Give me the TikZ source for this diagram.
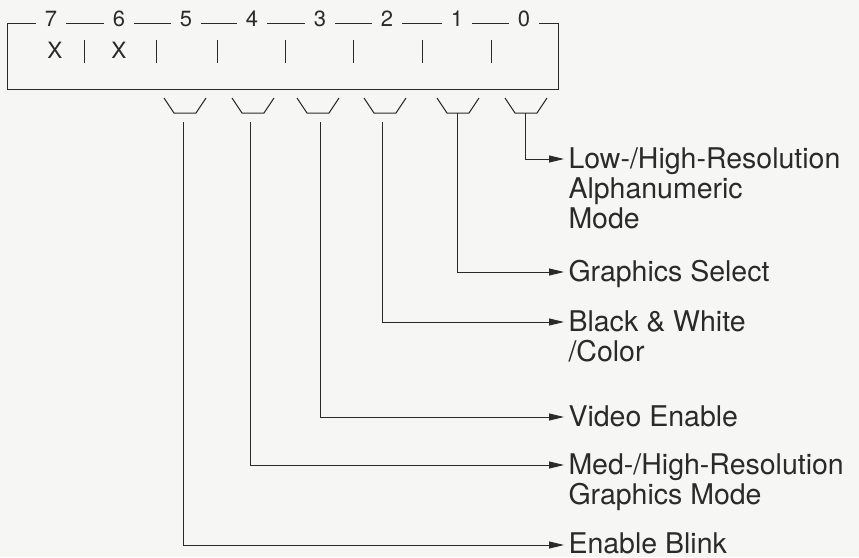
\documentclass[tikz,border=0pt]{standalone}
\usepackage{fontspec}
\setmainfont{TeX Gyre Heros}
\usetikzlibrary{arrows.meta}
\definecolor{paper}{HTML}{F6F6F4}
\definecolor{ink}{HTML}{2A2A2A}
\begin{document}
\begin{tikzpicture}[x=1pt,y=-1pt,color=ink,line width=1pt,
  bitnum/.style={font=\fontsize{22}{24}\selectfont, fill=paper, inner xsep=8.5pt, inner ysep=2pt},
  xlet/.style={font=\fontsize{22.5}{24}\selectfont, inner sep=0pt},
  lbl/.style={font=\fontsize{28.5}{30}\selectfont, align=left, anchor=base west, inner sep=0pt},
  arr/.style={-{Triangle[length=15pt,width=7pt]}},
  cupline/.style={line width=1pt}]
\useasboundingbox[fill=paper] (0,0) rectangle (859,557);
% register box
\draw (7,89) -- (7,23) -- (558,23) -- (558,89) -- cycle;
\node[bitnum] (b7) at (51,19) {7};
\node[bitnum] (b6) at (119,19) {6};
\node[bitnum] (b5) at (186,19) {5};
\node[bitnum] (b4) at (252,19) {4};
\node[bitnum] (b3) at (320,19) {3};
\node[bitnum] (b2) at (387,19) {2};
\node[bitnum] (b1) at (457,19) {1};
\node[bitnum] (b0) at (524,19) {0};
\foreach \s in {84,156,217,285,353,422,491}
  \draw (\s,40) -- (\s,63);
\node[xlet] (x7) at (55,50) {X};
\node[xlet] (x6) at (119,50) {X};
% cups
\foreach \c/\n in {185/5,253/4,318/3,385/2,458/1,526/0}{
  \draw[cupline] (\c-21,98) -- (\c-11,113) -- (\c+11,113) -- (\c+21,98);
}
% connector start and end points
\coordinate (s0) at (525,113);
\coordinate (s1) at (457,113);
\coordinate (s2) at (382,122);
\coordinate (s3) at (320,122);
\coordinate (s4) at (250,122);
\coordinate (s5) at (183,122);
\coordinate (e0) at (564,159);
\coordinate (e1) at (564,272);
\coordinate (e2) at (564,322);
\coordinate (e3) at (564,417);
\coordinate (e4) at (564,465);
\coordinate (e5) at (564,545);
% labels (base anchor = baseline of last line)
\node[lbl] (l0) at (568,228) {Low-/High-Resolution\\Alphanumeric\\Mode};
\node[lbl] (l1) at (568,281) {Graphics Select};
\node[lbl] (l2) at (568,361) {Black \& White\\/Color};
\node[lbl] (l3) at (568,426) {Video Enable};
\node[lbl] (l4) at (568,504) {Med-/High-Resolution\\Graphics Mode};
\node[lbl] (l5) at (568,553) {Enable Blink};
% connectors
\foreach \i in {0,...,5}
  \draw[arr] (s\i) |- (e\i);
\end{tikzpicture}
\end{document}
